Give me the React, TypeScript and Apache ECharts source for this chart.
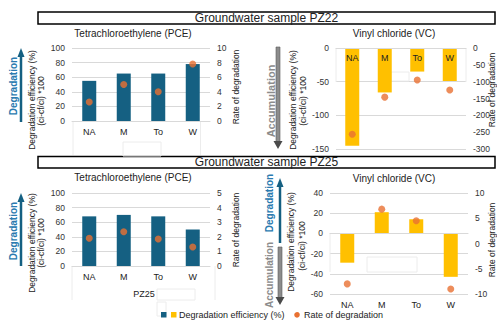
import React, { useEffect, useRef } from 'react';
import * as echarts from 'echarts';

const categories = ['NA', 'M', 'To', 'W'];
const pcePZ22Efficiency = [55, 65, 65, 78];
const pcePZ22Rate = [2.6, 5.0, 4.0, 7.8];
const vcPZ22Efficiency = [-145, -66, -35, -49];
const vcPZ22Rate = [-256, -146, -95, -125];
const pcePZ25Efficiency = [68, 70, 68, 50];
const pcePZ25Rate = [1.9, 2.35, 1.85, 1.3];
const vcPZ25Efficiency = [-29, 21, 14, -43];
const vcPZ25Rate = [-8.0, 6.8, 4.5, -9.0];

const headers = ['Groundwater sample PZ22', 'Groundwater sample PZ25'];
const chartTitles = ['Tetrachloroethylene (PCE)', 'Vinyl chloride (VC)'];
const effNameLines = ['Degradation efficiency (%)', '(ci-cf/ci) *100'];
const rateName = 'Rate of degradation';
const legendLabels = ['Degradation efficiency (%)', 'Rate of degradation'];
const degradationWord = 'Degradation';
const accumulationWord = 'Accumulation';
const subLabel = 'PZ25';

const FONT = 'Liberation Sans, Arial, sans-serif';
const BLUE = '#156082';
const YELLOW = '#FFC000';
const ORANGE = '#E97132';
const TEXT_BLUE = '#2a7ab0';
const GRAY = '#8c8c8c';
const GRID_LINE = '#d9d9d9';
const ART = '#ececec';

function txt(x: number, y: number, text: string, size: number, opts: any = {}) {
  const align = opts.align || 'center';
  return {
    type: 'text',
    x,
    y,
    rotation: opts.rotate ? Math.PI / 2 : 0,
    z: 20,
    style: {
      text,
      fontSize: size,
      fontFamily: FONT,
      fontWeight: opts.bold ? 'bold' : 'normal',
      fill: opts.color || '#222',
      align,
      verticalAlign: 'middle',
      textAlign: align,
      textVerticalAlign: 'middle',
    },
  };
}

function line(x1: number, y1: number, x2: number, y2: number, color: string, w: number) {
  return { type: 'line', z: 1, shape: { x1, y1, x2, y2 }, style: { stroke: color, lineWidth: w } };
}

function boxRect(x: number, y: number, w: number, h: number, stroke: string, lw: number, fill = 'none') {
  return { type: 'rect', z: 1, shape: { x, y, width: w, height: h }, style: { stroke, lineWidth: lw, fill } };
}

function poly(points: number[][], fill: string) {
  return { type: 'polygon', z: 20, shape: { points }, style: { fill } };
}

function upArrow(x: number, yTop: number, yBottom: number) {
  return [
    { type: 'line', z: 20, shape: { x1: x, y1: yTop + 8, x2: x, y2: yBottom }, style: { stroke: BLUE, lineWidth: 2.5 } },
    poly([[x, yTop], [x - 3.5, yTop + 9], [x + 3.5, yTop + 9]], BLUE),
  ];
}

function downArrow(x: number, yTop: number, yBottom: number) {
  return [
    { type: 'rect', z: 20, shape: { x: x - 2, y: yTop, width: 4, height: yBottom - yTop - 7 }, style: { fill: GRAY, stroke: '#5a5a5a', lineWidth: 0.6 } },
    poly([[x - 4.5, yBottom - 8], [x + 4.5, yBottom - 8], [x, yBottom]], '#4a4a4a'),
  ];
}

const grids = [
  { left: 72, top: 48, width: 138, height: 73 },
  { left: 336, top: 48, width: 130, height: 101 },
  { left: 72, top: 193, width: 138, height: 73 },
  { left: 330, top: 193, width: 138, height: 101 },
];

function yAxis(gridIndex: number, min: number, max: number, interval: number, right: boolean) {
  return {
    type: 'value',
    gridIndex,
    min,
    max,
    interval,
    position: right ? 'right' : 'left',
    axisLine: { show: false },
    axisTick: { show: false },
    axisLabel: { fontSize: 8.5, color: '#333', margin: 7, fontFamily: FONT },
    splitLine: right ? { show: false } : { show: true, lineStyle: { color: GRID_LINE, width: 1 } },
  };
}

export default function App() {
  const ref = useRef<HTMLDivElement>(null);
  useEffect(() => {
    if (!ref.current) return;
    const chart = echarts.init(ref.current, null, { renderer: 'svg' });
    const graphic: any[] = [
      // headers
      boxRect(38, 12, 457, 12, '#000', 1.5, '#fff'),
      txt(266.5, 18.3, headers[0], 12),
      boxRect(38, 156.5, 457, 11.5, '#000', 1.5, '#fff'),
      txt(266.5, 162.3, headers[1], 12),
      // titles
      txt(133, 33, chartTitles[0], 10),
      txt(394, 33, chartTitles[1], 10),
      txt(133, 177, chartTitles[0], 10),
      txt(394, 178, chartTitles[1], 10),
      // top-left side texts
      txt(13, 86, degradationWord, 10, { rotate: true, bold: true, color: TEXT_BLUE }),
      ...upArrow(21, 48, 122),
      txt(32, 100, effNameLines[0], 8.5, { rotate: true }),
      txt(40.5, 101, effNameLines[1], 8.5, { rotate: true }),
      txt(236, 87, rateName, 8.5, { rotate: true }),
      // top-right side texts
      txt(271, 101, accumulationWord, 11, { rotate: true, bold: true, color: GRAY }),
      ...downArrow(278, 47, 149),
      txt(293, 100, effNameLines[0], 8.5, { rotate: true }),
      txt(302.5, 101, effNameLines[1], 8.5, { rotate: true }),
      txt(491.5, 90, rateName, 8.5, { rotate: true }),
      // bottom-left side texts
      txt(13, 231, degradationWord, 10, { rotate: true, bold: true, color: TEXT_BLUE }),
      ...upArrow(21, 193, 266),
      txt(32, 243, effNameLines[0], 8.5, { rotate: true }),
      txt(40.5, 243, effNameLines[1], 8.5, { rotate: true }),
      txt(236, 230, rateName, 8.5, { rotate: true }),
      txt(144, 294, subLabel, 9),
      // bottom-right side texts
      txt(269, 203, degradationWord, 10, { rotate: true, bold: true, color: TEXT_BLUE }),
      ...upArrow(280, 178, 243),
      txt(269, 275, accumulationWord, 10, { rotate: true, bold: true, color: GRAY }),
      ...downArrow(280, 247, 305),
      txt(291, 242, effNameLines[0], 8.5, { rotate: true }),
      txt(301.5, 246, effNameLines[1], 8.5, { rotate: true }),
      txt(491.5, 240, rateName, 8.5, { rotate: true }),
      // pivot artifacts
      line(73, 121, 73, 155, ART, 1),
      line(200.5, 121, 200.5, 155, ART, 1),
      boxRect(123, 142, 38, 14, ART, 1),
      line(336, 48, 336, 82, ART, 1),
      line(466, 48, 466, 82, ART, 1),
      boxRect(391, 72, 18, 9, ART, 1),
      line(72, 266, 72, 300, ART, 1),
      line(215, 266, 215, 300, ART, 1),
      boxRect(157, 289, 38, 11, ART, 1),
      boxRect(157, 302, 9, 14, ART, 1),
      line(330, 233, 330, 272, ART, 1),
      boxRect(367, 257, 50, 15, ART, 1),
      // legend
      { type: 'rect', z: 20, shape: { x: 161, y: 312, width: 5.5, height: 5.5 }, style: { fill: BLUE } },
      { type: 'rect', z: 20, shape: { x: 171, y: 312, width: 5.5, height: 5.5 }, style: { fill: YELLOW } },
      txt(179, 314.8, legendLabels[0], 9, { align: 'left' }),
      { type: 'circle', z: 20, shape: { cx: 297, cy: 314.8, r: 2.8 }, style: { fill: ORANGE } },
      txt(304, 314.8, legendLabels[1], 9, { align: 'left' }),
    ];

    const barSeries = (idx: number, data: number[], color: string) => ({
      type: 'bar',
      name: legendLabels[0],
      xAxisIndex: idx,
      yAxisIndex: idx * 2,
      data,
      barWidth: 14,
      itemStyle: { color },
    });
    const dotSeries = (idx: number, data: number[]) => ({
      type: 'scatter',
      name: legendLabels[1],
      xAxisIndex: idx,
      yAxisIndex: idx * 2 + 1,
      data,
      symbol: 'circle',
      symbolSize: 7,
      itemStyle: { color: ORANGE },
      z: 5,
    });

    chart.setOption({
      animation: false,
      backgroundColor: '#fff',
      textStyle: { fontFamily: FONT },
      grid: grids.map((g) => ({ ...g, containLabel: false, outerBoundsMode: 'none' })),
      xAxis: [0, 1, 2, 3].map((i) => ({
        type: 'category',
        gridIndex: i,
        data: categories,
        position: i === 1 ? 'top' : 'bottom',
        z: 10,
        axisLine: { show: true, onZero: true, lineStyle: { color: GRID_LINE } },
        axisTick: { show: false },
        axisLabel: { inside: i === 1, margin: i === 1 ? 5 : 6, fontSize: 9, color: '#222', fontFamily: FONT },
      })),
      yAxis: [
        yAxis(0, 0, 100, 20, false),
        yAxis(0, 0, 10, 2, true),
        yAxis(1, -150, 0, 50, false),
        yAxis(1, -300, 0, 50, true),
        yAxis(2, 0, 100, 20, false),
        yAxis(2, 0, 5, 1, true),
        yAxis(3, -60, 40, 20, false),
        yAxis(3, -10, 10, 5, true),
      ],
      series: [
        barSeries(0, pcePZ22Efficiency, BLUE),
        dotSeries(0, pcePZ22Rate),
        barSeries(1, vcPZ22Efficiency, YELLOW),
        dotSeries(1, vcPZ22Rate),
        barSeries(2, pcePZ25Efficiency, BLUE),
        dotSeries(2, pcePZ25Rate),
        barSeries(3, vcPZ25Efficiency, YELLOW),
        dotSeries(3, vcPZ25Rate),
      ],
      graphic,
    });
    return () => chart.dispose();
  }, []);
  return (
    <div
      ref={ref}
      style={{ position: 'fixed', left: 0, top: 0, width: 497, height: 320, background: '#fff' }}
    />
  );
}
